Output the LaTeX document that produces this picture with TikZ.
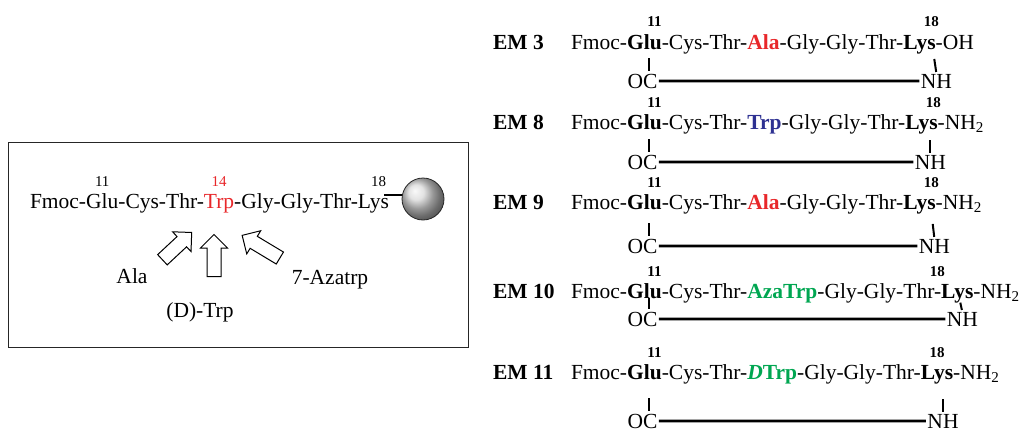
\documentclass[tikz,border=0pt]{standalone}
\usepackage{fontspec}
\setmainfont{Liberation Serif}
\usetikzlibrary{shapes.arrows}

\definecolor{emred}{RGB}{232,39,42}
\definecolor{emblue}{RGB}{46,49,146}
\definecolor{emgreen}{RGB}{0,166,81}

\tikzset{
	seq/.style={inner sep=0pt, outer sep=0pt, anchor=base west, font=\fontsize{21.5}{24}\selectfont},
	seqbf/.style={seq, font=\fontsize{21.5}{24}\selectfont\bfseries},
	lbl/.style={inner sep=0pt, font=\fontsize{21.5}{24}\selectfont},
	resnum/.style={inner sep=0pt, anchor=base, font=\fontsize{15}{17}\selectfont},
	bond/.style={line width=2.6pt},
	tick/.style={line width=2pt},
	hollow/.style={single arrow, draw=black, fill=white, line width=1pt, inner xsep=0pt, inner ysep=6.5pt,
		minimum height=42pt, single arrow head extend=6.5pt},
}

\begin{document}
\begin{tikzpicture}[x=1pt, y=1pt]
	\useasboundingbox (0,0) rectangle (1019,-431);

	\draw[line width=0.8pt, black!85] (8,-142) rectangle (468,-347);

	\node[seq] (fmoc) at (30,-208) {Fmoc-};
	\node[seq] (glu) at (fmoc.base east) {Glu};
	\node[seq] (cys) at (glu.base east) {-Cys-Thr-};
	\node[seq, text=emred] (trp) at (cys.base east) {Trp};
	\node[seq] (gly) at (trp.base east) {-Gly-Gly-Thr-};
	\node[seq] (lys) at (gly.base east) {Lys};

	\node[resnum] (n11) at ([yshift=22pt]glu.base) {11};
	\node[resnum, text=emred] (n14) at ([yshift=22pt]trp.base) {14};
	\node[resnum] (n18) at ([shift={(5pt,22pt)}]lys.base) {18};

	\node[circle, minimum size=42pt, inner sep=0pt, draw=black!85, line width=0.8pt, ball color=gray!30] (bead) at (423,-199) {};
	\coordinate (lysbond) at ([shift={(-5pt,13pt)}]lys.base east);
	\draw[bond] (lysbond) -- (lysbond -| bead.west);

	\node[hollow, rotate=43, minimum height=40pt] (arAla) at (174.5,-248.5) {};
	\node[hollow, rotate=90] (arD) at (214,-259) {};
	\node[hollow, rotate=149, minimum height=44pt] (arAza) at (264,-248.5) {};

	\node[lbl] (ala) at (132,-276) {Ala};
	\node[lbl] (dtrp) at (200,-312) {(D)-Trp};
	\node[lbl] (aza) at (330,-280) {7-Azatrp};

	\foreach \y/\oc/\lab/\res/\cterm/\dx/\sl/\tw/\nx in {
		49/88/3/{\textcolor{emred}{Ala}}/OH/17/3/2/12,
		129/169/8/{\textcolor{emblue}{Trp}}/{NH\textsubscript{2}}/9/0/2/12,
		209/253/9/{\textcolor{emred}{Ala}}/{NH\textsubscript{2}}/15/3/2/12,
		298/326/10/{\textcolor{emgreen}{AzaTrp}}/{NH\textsubscript{2}}/5/2/2/-20,
		379/428/11/{\textcolor{emgreen}{\textit{D}Trp}}/{NH\textsubscript{2}}/6/0/2.8/0}{
		\pgfmathsetmacro\gs{max(0,\oc-\y-30)}
		\pgfmathsetmacro\ls{max(0,\oc-\y-33.6)}
		\node[seqbf] (em) at (493,-\y) {EM \lab};
		\node[seq] (fmoc) at (571,-\y) {Fmoc-};
		\node[seqbf] (glu) at (fmoc.base east) {Glu};
		\node[seq] (cys) at (glu.base east) {-Cys-Thr-};
		\node[seqbf] (mut) at (cys.base east) {\res};
		\node[seq] (gly) at (mut.base east) {-Gly-Gly-Thr-};
		\node[seqbf] (lys) at (gly.base east) {Lys};
		\node[seq] (cterm) at (lys.base east) {-\cterm};

		\node[resnum, font=\fontsize{15}{17}\selectfont\bfseries] (n11) at ([shift={(10pt,22pt)}]glu.base) {11};
		\node[resnum, font=\fontsize{15}{17}\selectfont\bfseries] (n18) at ([shift={(\nx pt,22pt)}]lys.base) {18};

		\coordinate (ring) at (0,-\oc);
		\node[seq, anchor=base, xshift=-2pt] (oc) at (glu.base |- ring) {OC};
		\node[seq, anchor=base, xshift=\dx pt] (nh) at (lys.base |- ring) {NH};

		\draw[tick, shorten <=\gs pt, shorten >=3pt] ([xshift=5pt]glu.south) -- ([xshift=7pt]oc.north);
		\draw[tick, line width=\tw pt, shorten <=\ls pt, shorten >=2pt] ([xshift={(\dx-\sl)*1pt}]lys.south) -- (nh.north);
		\draw[bond, shorten <=1.5pt, shorten >=1.5pt] (oc.east) -- (nh.west);
	}
\end{tikzpicture}
\end{document}
